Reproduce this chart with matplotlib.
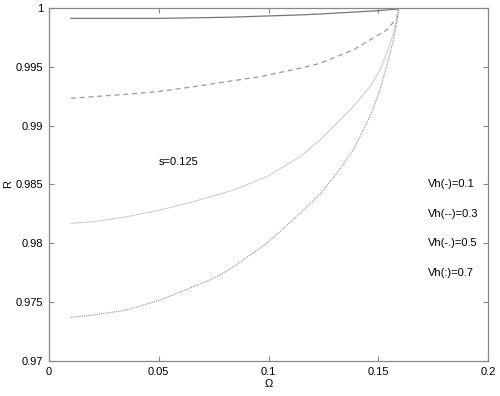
import numpy as np
import matplotlib.pyplot as plt

plt.rcParams['font.family'] = ['Liberation Sans', 'DejaVu Sans']

# values
om1 = [0.0100, 0.0506, 0.0810, 0.1144, 0.1235, 0.1499, 0.1590, 0.1593]
r1 = [0.99912, 0.99912, 0.99921, 0.99941, 0.99949, 0.99977, 0.99992, 1.0]

om2 = [0.0100, 0.0354, 0.0500, 0.0657, 0.0961, 0.1144, 0.1235, 0.1386, 0.1462,
       0.1538, 0.1584, 0.1593]
r2 = [0.99233, 0.99267, 0.99290, 0.99331, 0.99416, 0.99488, 0.99530, 0.99643, 0.99728,
      0.99813, 0.99912, 1.0]

om3 = [0.0100, 0.0202, 0.0354, 0.0506, 0.0657, 0.0779, 0.0840, 0.0992, 0.1144,
       0.1235, 0.1311, 0.1386, 0.1462, 0.1508, 0.1538, 0.1569, 0.1590, 0.1593]
r3 = [0.98170, 0.98184, 0.98226, 0.98283, 0.98354, 0.98419, 0.98453, 0.98566, 0.98736,
      0.98878, 0.99020, 0.99161, 0.99331, 0.99473, 0.99615, 0.99785, 0.99958, 1.0]

om4 = [0.0100, 0.0202, 0.0354, 0.0506, 0.0657, 0.0733, 0.0779, 0.0840, 0.0992,
       0.1144, 0.1235, 0.1311, 0.1386, 0.1462, 0.1508, 0.1538, 0.1569, 0.1587, 0.1593]
r4 = [0.97371, 0.97391, 0.97433, 0.97518, 0.97631, 0.97688, 0.97731, 0.97801, 0.98000,
      0.98255, 0.98419, 0.98595, 0.98793, 0.99076, 0.99303, 0.99501, 0.99728, 0.99898, 1.0]

labels = ['Vh(-)=0.1', 'Vh(--)=0.3', 'Vh(-.)=0.5', 'Vh(:)=0.7']
label_y = [0.98504, 0.98249, 0.98003, 0.97748]

fig = plt.figure(figsize=(5, 3.96), dpi=100)
ax = fig.add_axes([0.098, 0.0884, 0.878, 0.8914])

ax.plot(om1, r1, '-', color='#777777', lw=0.9)
ax.plot(om2, r2, '--', color='#999999', lw=0.9, dashes=(4, 3))
ax.plot(om3, r3, '-', color='#c8c8c8', lw=0.7)
ax.plot(om4, r4, ':', color='#777777', lw=0.8, dashes=(0.7, 1.0))

ax.text(0.05, 0.98691, 's=0.125', fontsize=8, va='center')
for lab, yy in zip(labels, label_y):
    ax.text(0.1727, yy, lab, fontsize=8, va='center')

ax.set_xlim(0, 0.2)
ax.set_ylim(0.97, 1.0)
ax.set_xticks([0, 0.05, 0.1, 0.15, 0.2])
ax.set_xticklabels(['0', '0.05', '0.1', '0.15', '0.2'])
ax.set_yticks([0.97, 0.975, 0.98, 0.985, 0.99, 0.995, 1.0])
ax.set_yticklabels(['0.97', '0.975', '0.98', '0.985', '0.99', '0.995', '1'])
ax.tick_params(direction='in', top=True, right=True, length=3.6, width=0.8,
               labelsize=8, color='#888888', pad=4)
for sp in ax.spines.values():
    sp.set_color('#888888')
    sp.set_linewidth(0.9)
ax.set_xlabel('Ω', fontsize=8, labelpad=2)
ax.set_ylabel('R', fontsize=8, labelpad=2)

fig.savefig('out.png')
